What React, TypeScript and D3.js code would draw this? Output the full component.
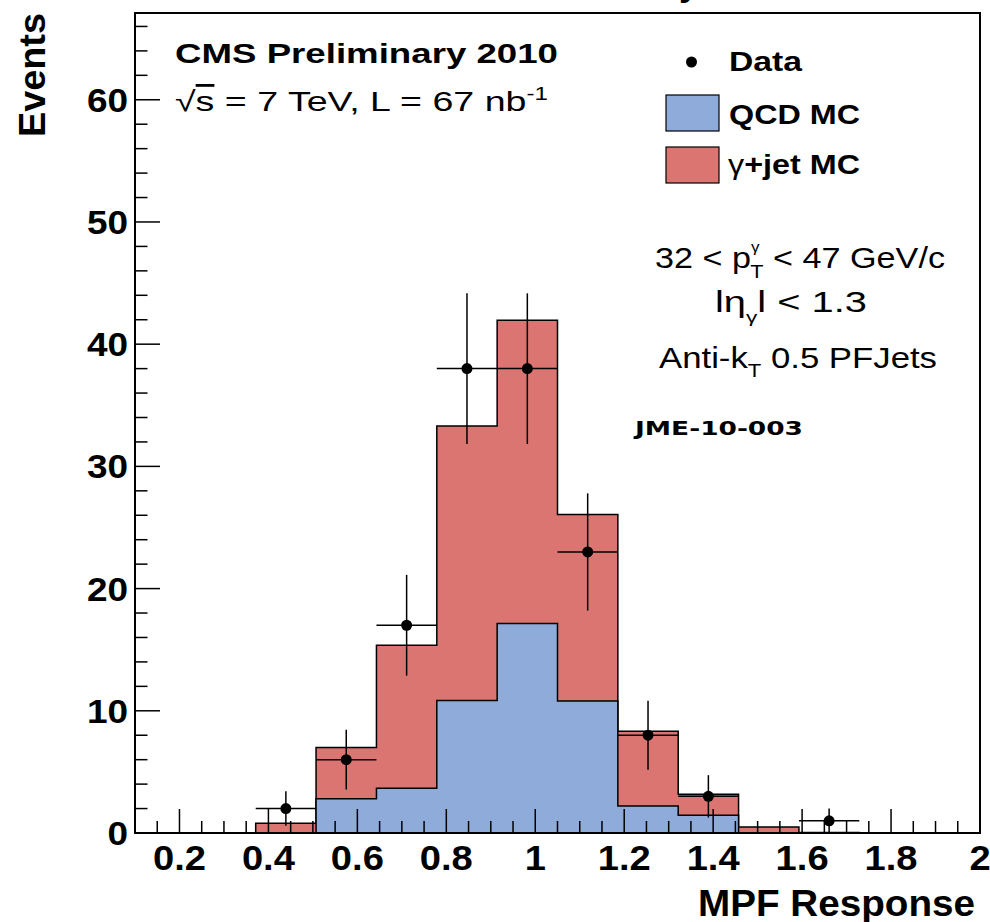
import React from "react";
import * as d3 from "d3";

// Bin edges of MPF response histogram (14 bins from 0.1 to 2.0)
const binEdges = [0.1, 0.2357, 0.3714, 0.5071, 0.6429, 0.7786, 0.9143, 1.05, 1.1857, 1.3214, 1.4571, 1.5929, 1.7286, 1.8643, 2.0];
// QCD MC (bottom of stack)
const qcdMC = [0, 0, 0, 2.8, 3.66, 10.85, 17.15, 10.8, 2.2, 1.46, 0, 0, 0, 0];
// gamma+jet MC (stacked on top of QCD)
const gjetMC = [0, 0, 0.8, 4.2, 11.7, 22.45, 24.8, 15.27, 6.12, 1.72, 0.49, 0.04, 0, 0];
// Data counts
const dataCounts = [0, 0, 2, 6, 17, 38, 38, 23, 8, 3, 0, 1, 0, 0];

const xMajorTicks = [0.2, 0.4, 0.6, 0.8, 1, 1.2, 1.4, 1.6, 1.8, 2];
const xTickLabels = ["0.2", "0.4", "0.6", "0.8", "1", "1.2", "1.4", "1.6", "1.8", "2"];
const yMajorTicks = [0, 10, 20, 30, 40, 50, 60];

const W = 990, H = 922;
const L = 135, R = 980, T = 13, B = 833;
const BLUE = "#8eabda";
const RED = "#da7572";
const SANS = "'Liberation Sans', Arial, Helvetica, sans-serif";

export default function App() {
  const x = d3.scaleLinear().domain([0.1, 2.0]).range([L, R]);
  const y = d3.scaleLinear().domain([0, 67.1]).range([B, T]);

  const totals = qcdMC.map((q, i) => q + gjetMC[i]);

  const stepPath = (vals: number[]) => {
    let p = `M${x(binEdges[0])},${y(0)}`;
    vals.forEach((v, i) => {
      p += `L${x(binEdges[i])},${y(v)}L${x(binEdges[i + 1])},${y(v)}`;
    });
    p += `L${x(binEdges[binEdges.length - 1])},${y(0)}Z`;
    return p;
  };
  const stepLine = (vals: number[]) => {
    let p = `M${x(binEdges[0])},${y(0)}`;
    vals.forEach((v, i) => {
      p += `L${x(binEdges[i])},${y(v)}L${x(binEdges[i + 1])},${y(v)}`;
    });
    p += `L${x(binEdges[binEdges.length - 1])},${y(0)}`;
    return p;
  };

  const xMinor = d3.range(0.15, 2.0001, 0.05).filter(
    (v) => !xMajorTicks.some((m) => Math.abs(m - v) < 1e-6)
  );
  const yMinor = d3.range(2, 67, 2).filter((v) => v % 10 !== 0);

  return (
    <svg width={W} height={H} style={{ display: "block", position: "absolute", left: 0, top: 0, background: "#fff" }}>
      <rect x={0} y={0} width={W} height={H} fill="#fff" />
      {/* cut-off title descender */}
      <text x={689} y={-5} fontFamily={SANS} fontWeight="bold" fontSize={36} textAnchor="middle">y</text>

      {/* stacked histograms */}
      <path d={stepPath(totals)} fill={RED} stroke="none" />
      <path d={stepLine(totals)} fill="none" stroke="#000" strokeWidth={1.5} />
      <path d={stepPath(qcdMC)} fill={BLUE} stroke="none" />
      <path d={stepLine(qcdMC)} fill="none" stroke="#000" strokeWidth={1.5} />

      {/* ticks */}
      {xMajorTicks.map((t) => (
        <line key={"xM" + t} x1={x(t)} x2={x(t)} y1={B} y2={B - 24} stroke="#000" strokeWidth={1.5} />
      ))}
      {xMinor.map((t) => (
        <line key={"xm" + t} x1={x(t)} x2={x(t)} y1={B} y2={B - 12} stroke="#000" strokeWidth={1.5} />
      ))}
      {yMajorTicks.map((t) => (
        <line key={"yM" + t} x1={L} x2={L + 25} y1={y(t)} y2={y(t)} stroke="#000" strokeWidth={1.5} />
      ))}
      {yMinor.map((t) => (
        <line key={"ym" + t} x1={L} x2={L + 12.5} y1={y(t)} y2={y(t)} stroke="#000" strokeWidth={1.5} />
      ))}

      {/* frame */}
      <rect x={L} y={T} width={R - L} height={B - T} fill="none" stroke="#000" strokeWidth={2} />

      {/* data points */}
      {dataCounts.map((d, i) => {
        if (d <= 0) return null;
        const cx = x((binEdges[i] + binEdges[i + 1]) / 2);
        const e = Math.sqrt(d);
        return (
          <g key={"d" + i}>
            <line x1={x(binEdges[i])} x2={x(binEdges[i + 1])} y1={y(d)} y2={y(d)} stroke="#000" strokeWidth={1.5} />
            <line x1={cx} x2={cx} y1={y(d - e)} y2={y(d + e)} stroke="#000" strokeWidth={1.5} />
            <circle cx={cx} cy={y(d)} r={5.5} fill="#000" />
          </g>
        );
      })}

      {/* tick labels */}
      {xMajorTicks.map((t, i) => (
        <text key={"xl" + t} transform={`translate(${x(t)},870) scale(1.09,1)`} textAnchor="middle"
          fontFamily={SANS} fontWeight="bold" fontSize={35}>{xTickLabels[i]}</text>
      ))}
      {yMajorTicks.map((t) => (
        <text key={"yl" + t} transform={`translate(128,${y(t) + 12}) scale(1.12,1)`} textAnchor="end"
          fontFamily={SANS} fontWeight="bold" fontSize={33}>{t}</text>
      ))}

      {/* axis titles */}
      <text x={975} y={916} textAnchor="end" fontFamily={SANS} fontWeight="bold" fontSize={36}
        textLength={277} lengthAdjust="spacingAndGlyphs">MPF Response</text>
      <text transform="translate(45,13) rotate(-90)" textAnchor="end" fontFamily={SANS} fontWeight="bold"
        fontSize={37} textLength={124} lengthAdjust="spacingAndGlyphs">Events</text>

      {/* CMS labels */}
      <text x={175} y={63} fontFamily={SANS} fontWeight="bold" fontSize={28} textLength={383}
        lengthAdjust="spacingAndGlyphs">CMS Preliminary 2010</text>
      <text x={175} y={111} fontFamily={SANS} fontSize={28} textLength={373} lengthAdjust="spacingAndGlyphs">
        √<tspan style={{ textDecoration: "overline" }}>s</tspan> = 7 TeV, L = 67 nb
        <tspan dy={-11} fontSize={18}>-1</tspan>
      </text>

      {/* legend */}
      <circle cx={691.5} cy={62} r={5.5} fill="#000" />
      <text x={729} y={71} fontFamily={SANS} fontWeight="bold" fontSize={27} textLength={73}
        lengthAdjust="spacingAndGlyphs">Data</text>
      <rect x={666} y={95} width={53} height={36} fill={BLUE} stroke="#000" strokeWidth={1.2} />
      <text x={729} y={124} fontFamily={SANS} fontWeight="bold" fontSize={28} textLength={131}
        lengthAdjust="spacingAndGlyphs">QCD MC</text>
      <rect x={666} y={147} width={53} height={36} fill={RED} stroke="#000" strokeWidth={1.2} />
      <text x={728} y={174} fontFamily={SANS} fontSize={28} textLength={132} lengthAdjust="spacingAndGlyphs">
        <tspan fontWeight="normal">γ</tspan>
        <tspan fontWeight="bold">+jet MC</tspan>
      </text>

      {/* selection text */}
      <text x={655} y={268} fontFamily={SANS} fontSize={30} textLength={290} lengthAdjust="spacingAndGlyphs">
        32 &lt; p<tspan dy={-16} fontSize={15}>γ</tspan><tspan dx={-8} dy={26} fontSize={19}>T</tspan>
        <tspan dy={-10}> &lt; 47 GeV/c</tspan>
      </text>
      <text x={715} y={312} fontFamily={SANS} fontSize={30} textLength={152} lengthAdjust="spacingAndGlyphs">
        lη<tspan dy={11} fontSize={17}>γ</tspan><tspan dy={-11}>l &lt; 1.3</tspan>
      </text>
      <text x={659} y={368} fontFamily={SANS} fontSize={30} textLength={278} lengthAdjust="spacingAndGlyphs">
        Anti-k<tspan dy={9} fontSize={19}>T</tspan><tspan dy={-9}> 0.5 PFJets</tspan>
      </text>
      <text x={635} y={435} fontFamily="'DejaVu Sans', sans-serif" fontWeight="bold" fontSize={19}
        textLength={168} lengthAdjust="spacingAndGlyphs">JME-10-003</text>
    </svg>
  );
}
